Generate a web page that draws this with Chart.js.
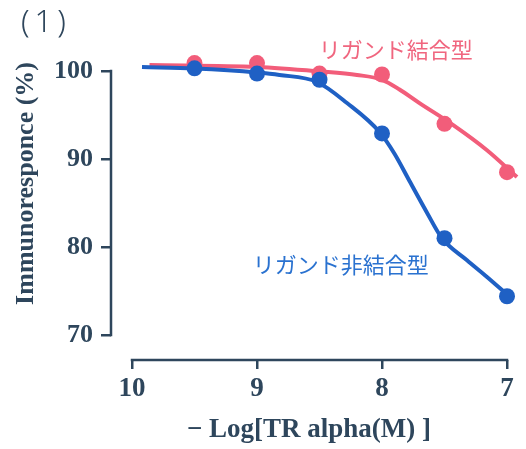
<!DOCTYPE html>
<html>
<head>
<meta charset="utf-8">
<script src="https://cdn.jsdelivr.net/npm/chart.js@4/dist/chart.umd.min.js"></script>
<style>
  html, body { margin: 0; padding: 0; background: #ffffff; }
  canvas { display: block; }
</style>
</head>
<body>
<canvas id="chart" width="526" height="449"></canvas>
<script>
// -Log[TR alpha] dose levels and measured immunoresponse (%)
const doseLevels      = [9.5, 9, 8.5, 8, 7.5, 7];
const boundResponse   = [100.9, 100.9, 99.7, 99.6, 94.0, 88.5];
const unboundResponse = [100.3, 99.7, 99.0, 92.9, 81.0, 74.4];

// fitted response curves
const boundFitX   = [9.86, 9.0, 8.5, 8.2, 8.0, 7.86, 7.70, 7.43, 7.16, 6.92];
const boundFitY   = [100.68, 100.45, 99.95, 99.55, 99.0, 97.9, 96.35, 93.85, 91.0, 87.95];
const unboundFitX = [9.92, 9.5, 9.0, 8.82, 8.52, 8.28, 8.02, 7.90, 7.78, 7.64, 7.52, 7.32, 7.16, 6.99];
const unboundFitY = [100.45, 100.28, 99.83, 99.55, 98.75, 96.36, 93.07, 90.6, 87.5, 83.9, 81.0, 78.5, 76.6, 74.5];

const xTicks = [10, 9, 8, 7];
const yTicks = [70, 80, 90, 100];

const seriesNames = ['リガンド結合型', 'リガンド非結合型'];
const panelLabel = '(1)';
const xTitle = '− Log[TR alpha(M) ]';
const yTitle = 'Immunoresponce (%)';

const INK = '#2e465c';
const PINK = '#f25d7a';
const PINK_TEXT = '#f0667f';
const BLUE = '#1f60c4';
const BLUE_TEXT = '#2a72d0';

const pairs = (xs, ys) => xs.map((x, i) => ({ x, y: ys[i] }));

// detached axis lines spanning only the first..last tick
const axisLines = {
  id: 'axisLines',
  beforeDatasetsDraw(chart) {
    const { ctx, chartArea, scales: { x, y } } = chart;
    ctx.save();
    ctx.strokeStyle = INK;
    ctx.lineWidth = 2.5;
    ctx.lineCap = 'square';
    ctx.beginPath();
    ctx.moveTo(chartArea.left, y.getPixelForValue(yTicks[yTicks.length - 1]));
    ctx.lineTo(chartArea.left, y.getPixelForValue(yTicks[0]));
    ctx.moveTo(x.getPixelForValue(xTicks[0]), chartArea.bottom);
    ctx.lineTo(x.getPixelForValue(xTicks[xTicks.length - 1]), chartArea.bottom);
    ctx.stroke();
    ctx.restore();
  }
};

// panel tag and series captions
const captions = {
  id: 'captions',
  afterDraw(chart) {
    const { ctx, scales: { x, y } } = chart;
    ctx.save();
    ctx.textBaseline = 'middle';
    ctx.fillStyle = INK;
    ctx.textAlign = 'left';
    ctx.font = '300 31px "Noto Sans"';
    ctx.letterSpacing = '5px';
    ctx.fillText(panelLabel, 21, 23);
    ctx.letterSpacing = '0px';

    ctx.textAlign = 'center';
    ctx.font = '400 22px "Noto Sans CJK JP"';
    ctx.fillStyle = PINK_TEXT;
    ctx.fillText(seriesNames[0], x.getPixelForValue(7.89), y.getPixelForValue(102.4));
    ctx.fillStyle = BLUE_TEXT;
    ctx.fillText(seriesNames[1], x.getPixelForValue(8.33), y.getPixelForValue(78.0));
    ctx.restore();
  }
};

const serifBold = { family: '"Liberation Serif", "DejaVu Serif", serif', weight: 'bold' };

new Chart(document.getElementById('chart'), {
  type: 'scatter',
  data: {
    datasets: [
      {
        label: seriesNames[1] + ' points',
        data: pairs(doseLevels, unboundResponse),
        backgroundColor: BLUE, borderWidth: 0, pointRadius: 8,
        order: 0, clip: false
      },
      {
        label: seriesNames[0] + ' points',
        data: pairs(doseLevels, boundResponse),
        backgroundColor: PINK, borderWidth: 0, pointRadius: 8,
        order: 1, clip: false
      },
      {
        label: seriesNames[1],
        data: pairs(unboundFitX, unboundFitY),
        showLine: true, borderColor: BLUE, borderWidth: 4, pointRadius: 0,
        cubicInterpolationMode: 'monotone', order: 2, clip: false
      },
      {
        label: seriesNames[0],
        data: pairs(boundFitX, boundFitY),
        showLine: true, borderColor: PINK, borderWidth: 4, pointRadius: 0,
        cubicInterpolationMode: 'monotone', order: 3, clip: false
      }
    ]
  },
  options: {
    responsive: false,
    animation: false,
    devicePixelRatio: 1,
    layout: { padding: { left: 0, right: 19, top: 62, bottom: 0 } },
    plugins: { legend: { display: false }, tooltip: { enabled: false } },
    scales: {
      x: {
        type: 'linear',
        reverse: true,
        min: 7,
        max: 10.168,
        afterBuildTicks: s => { s.ticks = xTicks.map(v => ({ value: v })); },
        afterFit: s => { s.height = 89; },
        border: { display: false },
        grid: { drawOnChartArea: false, drawTicks: true, tickLength: 9, color: INK, lineWidth: 2.5 },
        ticks: { color: INK, font: { ...serifBold, size: 27 }, padding: 4, maxRotation: 0 },
        title: {
          display: true, text: xTitle, color: INK,
          font: { ...serifBold, size: 27, lineHeight: 1 },
          padding: { top: 0, bottom: 5 }
        }
      },
      y: {
        type: 'linear',
        min: 67.16,
        max: 101.02,
        afterBuildTicks: s => { s.ticks = yTicks.map(v => ({ value: v })); },
        afterFit: s => { s.width = 111; },
        border: { display: false },
        grid: { drawOnChartArea: false, drawTicks: true, tickLength: 10, color: INK, lineWidth: 2.5 },
        ticks: { color: INK, font: { ...serifBold, size: 26 }, padding: 8 },
        title: {
          display: true, text: yTitle, color: INK, align: 'end',
          font: { ...serifBold, size: 26, lineHeight: 1 },
          padding: { top: 13, bottom: 0 }
        }
      }
    }
  },
  plugins: [axisLines, captions]
});
</script>
</body>
</html>
